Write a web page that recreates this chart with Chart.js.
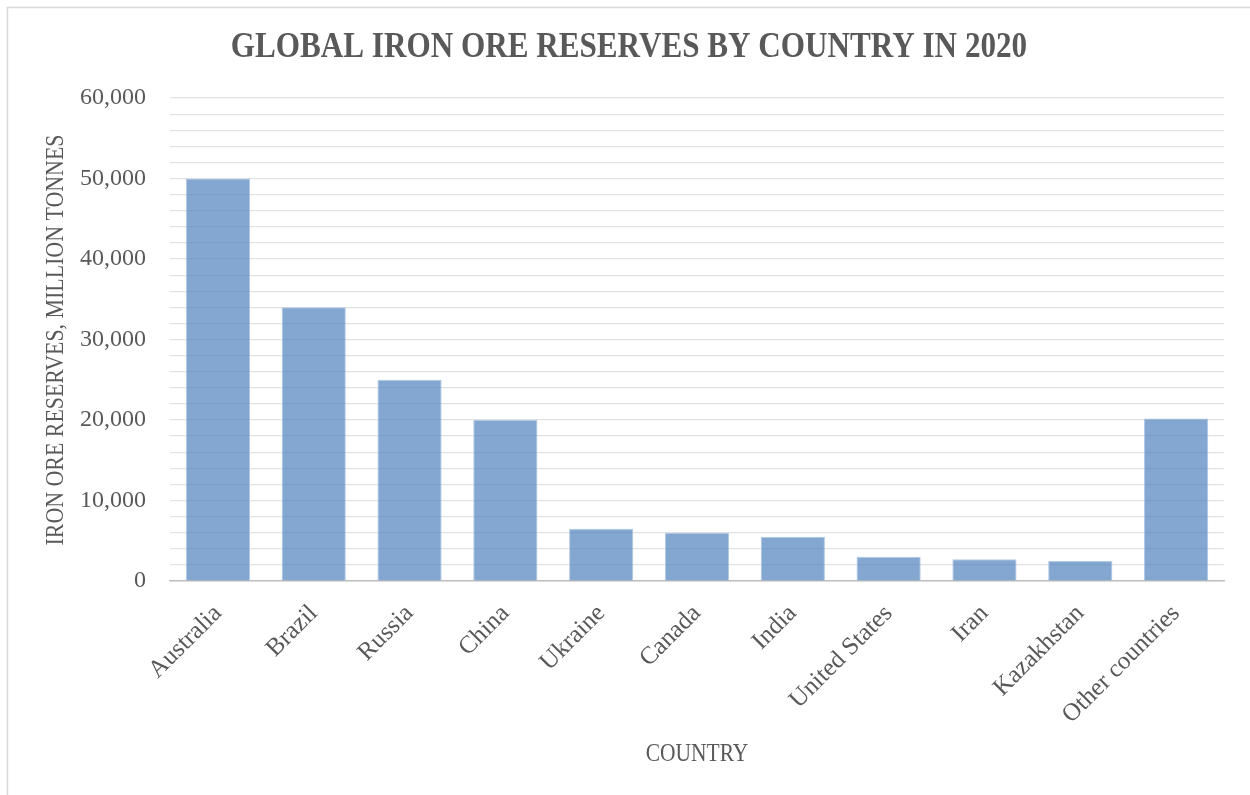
<!DOCTYPE html>
<html>
<head>
<meta charset="utf-8">
<title>Global iron ore reserves by country in 2020</title>
<script src="https://cdn.jsdelivr.net/npm/chart.js@4.4.1/dist/chart.umd.min.js"></script>
<style>
    html, body { margin: 0; padding: 0; background: #ffffff; }
    #wrap { position: relative; width: 1250px; height: 795px; }
</style>
</head>
<body>
<div id="wrap"><canvas id="reservesChart"></canvas></div>
<script>
const countries = ['Australia', 'Brazil', 'Russia', 'China', 'Ukraine', 'Canada', 'India',
    'United States', 'Iran', 'Kazakhstan', 'Other countries'];
const reserves = [50000, 34000, 25000, 20000, 6500, 6000, 5500, 3000, 2700, 2500, 20200];
const yTicks = [0, 10000, 20000, 30000, 40000, 50000, 60000];

const chartTitle = 'GLOBAL IRON ORE RESERVES BY COUNTRY IN 2020';
const xTitle = 'COUNTRY';
const yTitle = 'IRON ORE RESERVES, MILLION TONNES';

const textGrey = '#595959';
const serif = "'Liberation Serif', 'Times New Roman', serif";

// draws a line of text squeezed horizontally (narrow serif look)
function squeezedText(ctx, text, x, y, font, sx, angle) {
    ctx.save();
    ctx.translate(x, y);
    if (angle) ctx.rotate(angle);
    ctx.scale(sx, 1);
    ctx.font = font;
    ctx.fillStyle = textGrey;
    ctx.textAlign = 'center';
    ctx.textBaseline = 'alphabetic';
    ctx.fillText(text, 0, 0);
    ctx.restore();
}

const frameAndTitles = {
    id: 'frameAndTitles',
    beforeDraw(chart) {
        const ctx = chart.ctx;
        ctx.save();
        ctx.strokeStyle = '#d9d9d9';
        ctx.lineWidth = 1.5;
        ctx.beginPath();
        ctx.moveTo(7.5, chart.height);
        ctx.lineTo(7.5, 7.5);
        ctx.lineTo(chart.width, 7.5);
        ctx.stroke();
        ctx.restore();
    },
    afterDraw(chart) {
        const ctx = chart.ctx;
        squeezedText(ctx, chartTitle, 629, 57, 'bold 36px ' + serif, 0.865);
        squeezedText(ctx, xTitle, 697, 761, '25px ' + serif, 0.86);
        squeezedText(ctx, yTitle, 63, 340, '25px ' + serif, 0.876, -Math.PI / 2);
    }
};

const ctx = document.getElementById('reservesChart').getContext('2d');

new Chart(ctx, {
    type: 'bar',
    data: {
        labels: countries,
        datasets: [{
            label: 'Iron ore reserves, million tonnes',
            data: reserves,
            backgroundColor: 'rgba(79, 129, 189, 0.7)',
            borderColor: 'rgba(170, 196, 228, 0.9)',
            borderWidth: 1,
            categoryPercentage: 1,
            barPercentage: 0.67
        }]
    },
    options: {
        responsive: true,
        maintainAspectRatio: false,
        animation: false,
        layout: {
            padding: { top: 98, right: 26, bottom: 0, left: 0 }
        },
        plugins: {
            legend: { display: false },
            title: { display: false },
            tooltip: { enabled: false }
        },
        scales: {
            x: {
                grid: { display: false, drawTicks: false },
                border: { display: true, color: '#bfbfbf', width: 1.5 },
                ticks: {
                    color: textGrey,
                    font: { family: serif, size: 25 },
                    minRotation: 45,
                    maxRotation: 45,
                    padding: 18,
                    autoSkip: false
                },
                afterFit(scale) { scale.height = 214; }
            },
            y: {
                min: 0,
                max: 60000,
                grid: { color: '#e2e2e2', lineWidth: 1.2, drawTicks: false },
                border: { display: false },
                ticks: {
                    stepSize: 2000,
                    autoSkip: false,
                    color: textGrey,
                    padding: 24,
                    font: { family: serif, size: 24 },
                    callback: value => yTicks.includes(value) ? value.toLocaleString('en-US') : ''
                },
                afterFit(scale) { scale.width = 170; }
            }
        }
    },
    plugins: [frameAndTitles]
});
</script>
</body>
</html>
